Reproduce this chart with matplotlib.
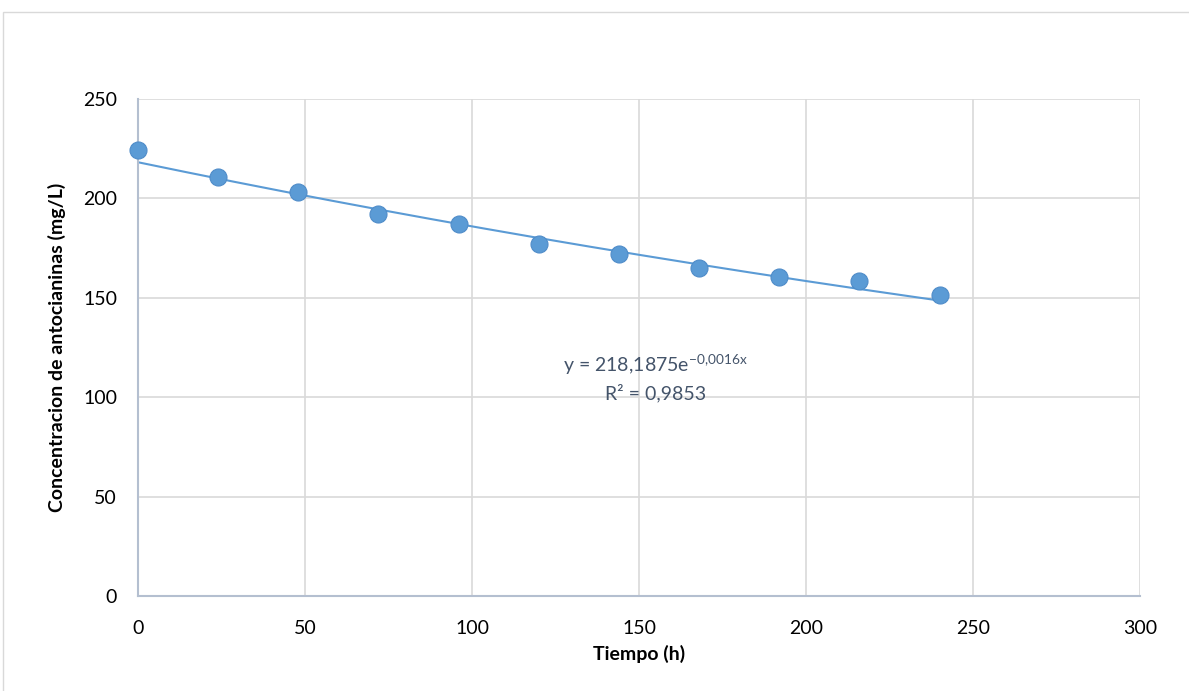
import numpy as np
import matplotlib.pyplot as plt
from matplotlib.patches import Rectangle

plt.rcParams['font.family'] = ['Lato', 'DejaVu Sans']
plt.rcParams['mathtext.fontset'] = 'custom'
plt.rcParams['mathtext.rm'] = 'Lato'

tiempo = [0, 24, 48, 72, 96, 120, 144, 168, 192, 216, 240]
concentracion = [224.2, 210.6, 203.4, 192.2, 187.1, 177.0, 172.0, 165.2, 160.4, 158.5, 151.4]
a_fit = 218.1875
b_fit = -0.0016
xticks = [0, 50, 100, 150, 200, 250, 300]
yticks = [0, 50, 100, 150, 200, 250]

azul = '#5B9BD5'

fig = plt.figure(figsize=(11.89, 6.91), dpi=100)
fig.patches.append(Rectangle((3/1189, -0.01), 1.0, 1 - 12/691 + 0.01,
                             transform=fig.transFigure, fill=False,
                             edgecolor='#D9D9D9', linewidth=1.0))
ax = fig.add_axes([138/1189, 1 - 596/691, (1140 - 138)/1189, (596 - 99)/691])

ax.set_xlim(0, 300)
ax.set_ylim(0, 250)
ax.set_xticks(xticks)
ax.set_yticks(yticks)
ax.grid(True, color='#D9D9D9', linewidth=1.2)
ax.set_axisbelow(True)
for s in ['top', 'right']:
    ax.spines[s].set_visible(False)
for s in ['left', 'bottom']:
    ax.spines[s].set_color('#B4BFD0')
    ax.spines[s].set_linewidth(1.5)
ax.tick_params(length=0, labelsize=14, colors='black')
ax.tick_params(axis='x', pad=17)
ax.tick_params(axis='y', pad=15)

# linea de tendencia exponencial
xt = np.linspace(0, 240, 200)
ax.plot(xt, a_fit * np.exp(b_fit * xt), color=azul, linewidth=1.5, zorder=2)
ax.scatter(tiempo, concentracion, s=150, color=azul, edgecolors='#4F8CC9',
           linewidths=0.8, zorder=3, clip_on=False)

ax.text(155, 116.2, r'y = 218,1875e$\mathregular{^{-0{,}0016x}}$', ha='center',
        va='center', fontsize=14, color='#44546A')
ax.text(155, 102.1, 'R² = 0,9853', ha='center', va='center',
        fontsize=14, color='#44546A')

ax.set_xlabel('Tiempo (h)', fontsize=14, fontweight='bold', labelpad=6)
ax.set_ylabel('Concentracion de antocianinas (mg/L)', fontsize=14,
              fontweight='bold', labelpad=12)

fig.savefig('out.png', dpi=100)
